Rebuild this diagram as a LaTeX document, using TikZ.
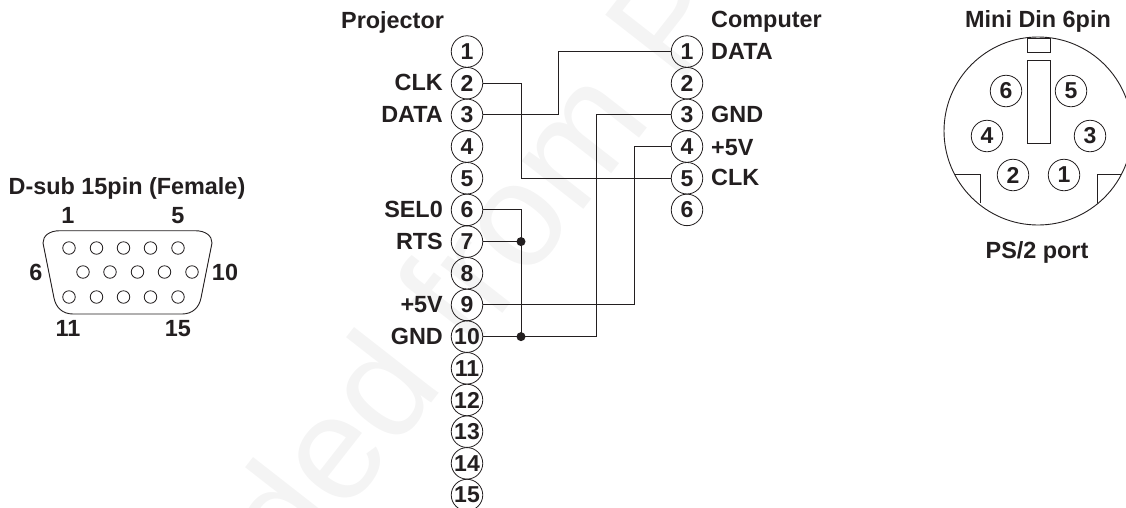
\documentclass[tikz,border=0pt]{standalone}
\usepackage{fontspec}
\setmainfont{Liberation Sans}
\definecolor{ink}{HTML}{231F20}
\definecolor{wmark}{HTML}{F4F4F4}
\tikzset{
  pin/.style={circle,draw=ink,line width=0.8pt,minimum size=31.5pt,inner sep=0pt,text=ink,font=\fontsize{23}{23}\selectfont\bfseries},
  lab/.style={text=ink,inner sep=0pt,font=\fontsize{23.4}{23.4}\selectfont\bfseries},
  wire/.style={draw=ink,line width=1pt},
  shell/.style={draw=ink,line width=0.9pt},
  hole/.style={circle,draw=ink,line width=0.8pt,minimum size=12.5pt,inner sep=0pt},
  jointdot/.style={circle,fill=ink,minimum size=9pt,inner sep=0pt},
  wmarktext/.style={text=wmark,inner sep=0pt,rotate=52,font=\fontsize{148}{148}\selectfont}
}
\begin{document}
\begin{tikzpicture}[x=1pt,y=-1pt]
\useasboundingbox (0,0) rectangle (1126,507);
\clip (0,0) rectangle (1126,507);
\node[wmarktext,anchor=base west] (wm) at (293.5,580.6) {ded from P};
% projector pins
\foreach \n in {1,...,15}{
  \node[pin] (p\n) at (467,{51.5+31.68*(\n-1)}) {\n};
}
\foreach \n in {1,...,6}{
  \node[pin] (c\n) at (687,{51.5+31.68*(\n-1)}) {\n};
}
% labels
\node[lab,anchor=base west] (tp) at (341,28) {Projector};
\node[lab,anchor=base west] (tc) at (711,27.5) {Computer};
\node[lab,anchor=base east] (l2) at (443,90.7) {CLK};
\node[lab,anchor=base east] (l3) at (443,122) {DATA};
\node[lab,anchor=base east] (l6) at (443,217.5) {SEL0};
\node[lab,anchor=base east] (l7) at (443,249) {RTS};
\node[lab,anchor=base east] (l9) at (443,312.7) {+5V};
\node[lab,anchor=base east] (l10) at (443,344.5) {GND};
\node[lab,anchor=base west] (r1) at (711,59.5) {DATA};
\node[lab,anchor=base west] (r3) at (711,122) {GND};
\node[lab,anchor=base west] (r4) at (711,155) {+5V};
\node[lab,anchor=base west] (r5) at (711,185.7) {CLK};
% wires
\coordinate (xa) at (521,0);
\coordinate (xb) at (558,0);
\coordinate (xc) at (596,0);
\coordinate (xd) at (634,0);
\draw[wire] (p2.east) -| (xa |- c5.west) -- (c5.west);
\draw[wire] (p3.east) -| (xb |- c1.west) -- (c1.west);
\draw[wire] (p6.east) -| (xa |- p10.east);
\draw[wire] (p7.east) -- (xa |- p7.east);
\draw[wire] (p10.east) -| (xc |- c3.west) -- (c3.west);
\draw[wire] (p9.east) -| (xd |- c4.west) -- (c4.west);
\node[jointdot] (j1) at (xa |- p7.east) {};
\node[jointdot] (j2) at (xa |- p10.east) {};
% D-sub
\node[lab,anchor=base] (dt) at (127,194) {D-sub 15pin (Female)};
\node[lab,anchor=base] (d1) at (68,223) {1};
\node[lab,anchor=base] (d5) at (178,223) {5};
\node[lab,anchor=base] (d6) at (36,280.7) {6};
\node[lab,anchor=base] (d10) at (225,280.7) {10};
\node[lab,anchor=base] (d11) at (68,336.7) {11};
\node[lab,anchor=base] (d15) at (178,336.7) {15};
\draw[shell] (43,243) .. controls (43,236) and (49,230.7) .. (60,230.7) -- (195,230.7)
  .. controls (206,230.7) and (212,236) .. (212,243) -- (201,298)
  .. controls (199,308) and (192,314) .. (182,314) -- (73,314)
  .. controls (63,314) and (56,308) .. (54,298) -- cycle;
\foreach \i/\x in {1/69,2/96.5,3/123.5,4/150.5,5/178}{
  \node[hole] (ha\i) at (\x,248) {};
  \node[hole] (hc\i) at (\x,297) {};
}
\foreach \i/\x in {1/83,2/110,3/137.5,4/164.5,5/192}{
  \node[hole] (hb\i) at (\x,272) {};
}
% Mini din
\node[lab,anchor=base] (mt) at (1038,27.5) {Mini Din 6pin};
\node[lab,anchor=base] (mb) at (1037,258) {PS/2 port};
\draw[shell] (1038,131) circle (94);
\draw[shell] (1027,38) rectangle (1050,52.7);
\draw[shell] (1027,60) rectangle (1050,143);
\draw[shell] (955,174) -- (980,174) -- (980,203);
\draw[shell] (1121,174) -- (1097,174) -- (1097,203);
\node[pin] (m6) at (1006,91) {6};
\node[pin] (m5) at (1071,91) {5};
\node[pin] (m4) at (987,136) {4};
\node[pin] (m3) at (1090,136) {3};
\node[pin] (m2) at (1013,175) {2};
\node[pin] (m1) at (1064,175) {1};
\end{tikzpicture}
\end{document}
